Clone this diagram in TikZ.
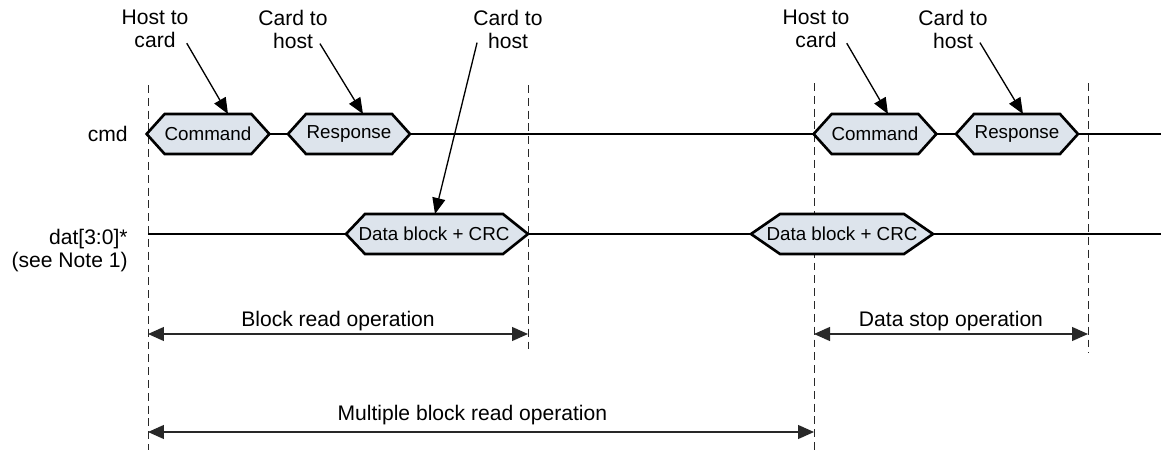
\documentclass[tikz,border=0pt]{standalone}
\usepackage{fontspec}
\setmainfont{Liberation Sans}
\usepackage{tikz}
\usetikzlibrary{positioning,arrows.meta,calc,backgrounds}
\definecolor{sdfill}{RGB}{221,228,236}
\definecolor{sdguide}{RGB}{40,40,40}
\newcommand{\lblfont}{\fontsize{12}{13.1}\selectfont}
\newcommand{\boxfont}{\fontsize{10.7}{12}\selectfont}
% hexagon outline round a phase node: name, left bevel, right bevel
\newcommand{\phaseframe}[3]{%
  \coordinate (#1-l) at ($(#1.west)-(#2,0)$);
  \coordinate (#1-r) at ($(#1.east)+(#3,0)$);
  \begin{pgfonlayer}{background}
    \draw[phasebox] (#1-l) -- (#1.north west) -- (#1.north east) -- (#1-r)
      -- (#1.south east) -- (#1.south west) -- cycle;
  \end{pgfonlayer}}

\begin{document}
\begin{tikzpicture}[
  x=0.02cm, y=-0.02cm,
  phase/.style={inner xsep=0pt, inner ysep=0pt, outer sep=0pt,
    minimum height=0.8cm, font=\boxfont},
  phasebox/.style={draw=black, line width=1.5pt, fill=sdfill, line join=miter},
  sig/.style={line width=1.3pt},
  guide/.style={dash pattern=on 4.5pt off 2.8pt, line width=0.55pt, draw=sdguide},
  tag/.style={align=center, font=\lblfont, inner sep=0pt},
  callarr/.style={-{Triangle[length=3.2mm, width=2.6mm]}, line width=0.75pt},
  dimarr/.style={{Triangle[length=3.2mm, width=2.8mm]}-{Triangle[length=3.2mm, width=2.8mm]},
    line width=0.7pt, draw=sdguide},
  dimlbl/.style={font=\lblfont, inner sep=1.5pt, text=black}
]
  \useasboundingbox (0,0) rectangle (1161,450);

  % --- time markers (dashed guides, behind the phases) ---
  \coordinate (t0top) at (148,85);   \coordinate (t0bot) at (148,450);
  \coordinate (t1top) at (528,85);   \coordinate (t1bot) at (528,353);
  \coordinate (t2top) at (814,83);   \coordinate (t2bot) at (814,450);
  \coordinate (t3top) at (1088,83);  \coordinate (t3bot) at (1088,353);
  \begin{pgfonlayer}{background}
    \draw[guide] (t0top) -- (t0bot);
    \draw[guide] (t1top) -- (t1bot);
    \draw[guide] (t2top) -- (t2bot);
    \draw[guide] (t3top) -- (t3bot);
  \end{pgfonlayer}

  % --- row labels ---
  \node[font=\lblfont, anchor=east, inner sep=0pt]              (cmdlbl) at (128,134) {cmd};
  \node[font=\lblfont, anchor=east, align=right, inner sep=0pt] (datlbl) at (128,251) {dat[3:0]*\\(see Note 1)};

  % --- Row 1: cmd phases ---
  \node[phase, minimum width=1.68cm] (cmdA) at (208,134)  {Command};
  \node[phase, minimum width=1.72cm] (rspA) at (349,134)  {Response};
  \node[phase, minimum width=1.68cm] (cmdB) at (875,134)  {Command};
  \node[phase, minimum width=1.72cm] (rspB) at (1017,134) {Response};
  \phaseframe{cmdA}{18}{18}
  \phaseframe{rspA}{18}{18}
  \phaseframe{cmdB}{18}{18}
  \phaseframe{rspB}{18}{18}

  % --- Row 2: data phases ---
  \node[phase] (datA) at (434,234) {\makebox[2.76cm]{Data block + CRC}};
  \node[phase] (datB) at (842,234) {\makebox[2.48cm]{Data block + CRC}};
  \phaseframe{datA}{19}{25}
  \phaseframe{datB}{29}{29}

  % --- signal lines ---
  \coordinate (cmdend) at (1161,134);
  \coordinate (datbeg) at (148,234);
  \coordinate (datend) at (1161,234);
  \draw[sig] (cmdA-r) -- (rspA-l);
  \draw[sig] (rspA-r) -- (cmdB-l);
  \draw[sig] (cmdB-r) -- (rspB-l);
  \draw[sig] (rspB-r) -- (cmdend);
  \draw[sig] (datbeg) -- (datA-l);
  \draw[sig] (datA-r) -- (datB-l);
  \draw[sig] (datB-r) -- (datend);

  % --- direction notes ---
  \node[tag] (hcA) at (155,29) {Host to\\card};
  \node[tag] (chA) at (293,29) {Card to\\host};
  \node[tag] (chB) at (508,29) {Card to\\host};
  \node[tag] (hcB) at (816,29) {Host to\\card};
  \node[tag] (chC) at (953,29) {Card to\\host};
  \draw[callarr] ($(hcA.south east)+(-2,-5)$) -- ($(cmdA.north)+(20,0)$);
  \draw[callarr] ($(chA.south east)+(-8,-5)$) -- ($(rspA.north)+(14,0)$);
  \draw[callarr] ($(chB.south west)+(4,-6)$)  -- ($(datA.north)+(1,0)$);
  \draw[callarr] ($(hcB.south east)+(-3,-5)$) -- ($(cmdB.north)+(13,0)$);
  \draw[callarr] ($(chC.south east)+(-8,-6)$) -- ($(rspB.north)+(6,0)$);

  % --- operation spans ---
  \coordinate (rdA) at (148,334);  \coordinate (rdB) at (528,334);
  \coordinate (stA) at (814,334);  \coordinate (stB) at (1088,334);
  \coordinate (mbA) at (148,432);  \coordinate (mbB) at (814,432);
  \draw[dimarr] (rdA) -- node[dimlbl, midway, above] (rdlbl) {Block read operation} (rdB);
  \draw[dimarr] (stA) -- node[dimlbl, midway, above] (stlbl) {Data stop operation} (stB);
  \draw[dimarr] (mbA) -- node[dimlbl, pos=0.487, above=2pt] (mblbl) {Multiple block read operation} (mbB);
\end{tikzpicture}
\end{document}
